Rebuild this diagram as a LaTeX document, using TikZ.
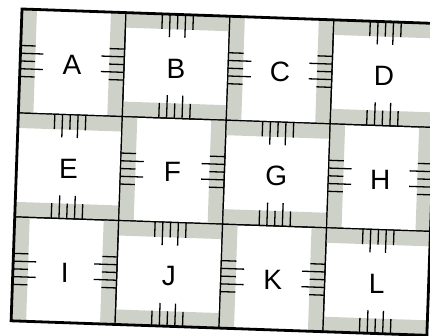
\documentclass[tikz,border=0pt]{standalone}
\usepackage{fontspec}
\setmainfont{Liberation Sans}
\definecolor{stripgray}{RGB}{206,209,200}

% tile with gray strips on the left and right sides
\newcommand{\vtile}[2]{%
  \begin{scope}[shift = {(#1,#2)}]
    \fill[graystrip] (0,0) rectangle (15,104);
    \fill[graystrip] (89,0) rectangle (104,104);
    \draw[tickline] (0,36.5) -- ++(15,0) (0,44.25) -- ++(23,0) (0,52) -- ++(15,0)
                    (0,59.75) -- ++(23,0) (0,67.5) -- ++(15,0);
    \draw[tickline] (104,36.5) -- ++(-15,0) (104,44.25) -- ++(-23,0) (104,52) -- ++(-15,0)
                    (104,59.75) -- ++(-23,0) (104,67.5) -- ++(-15,0);
    \draw[tileedge] (0,0) rectangle (104,104);
  \end{scope}}

% tile with gray strips on the top and bottom sides
\newcommand{\htile}[2]{%
  \begin{scope}[shift = {(#1,#2)}]
    \fill[graystrip] (0,0) rectangle (104,15);
    \fill[graystrip] (0,89) rectangle (104,104);
    \draw[tickline] (36.5,0) -- ++(0,15) (44.25,0) -- ++(0,23) (52,0) -- ++(0,15)
                    (59.75,0) -- ++(0,23) (67.5,0) -- ++(0,15);
    \draw[tickline] (36.5,104) -- ++(0,-15) (44.25,104) -- ++(0,-23) (52,104) -- ++(0,-15)
                    (59.75,104) -- ++(0,-23) (67.5,104) -- ++(0,-15);
    \draw[tileedge] (0,0) rectangle (104,104);
  \end{scope}}

\begin{document}
\begin{tikzpicture}[
    x = 1pt, y = -1pt,
    every node/.style = {font = \fontsize{28}{32}\selectfont, inner sep = 0pt},
    graystrip/.style  = {fill = stripgray},
    tileedge/.style   = {draw, line width = 1.2pt},
    outerframe/.style = {draw, line width = 2.8pt},
    tickline/.style   = {draw, line width = 1.3pt},
]

\useasboundingbox (0,0) rectangle (430,336);
\fill[white] (0,0) rectangle (430,336);
\clip (0,0) rectangle (430,336);

% ---------- the scanned board sits a little skewed ----------
\begin{scope}[shift = {(22,9)}, rotate = -2]

% ---------- tiles: 4 columns x 3 rows ----------
\vtile{  0}{  0}
\htile{104}{  0}
\vtile{208}{  0}
\htile{312}{  0}

\htile{  0}{104}
\vtile{104}{104}
\htile{208}{104}
\vtile{312}{104}

\vtile{  0}{208}
\htile{104}{208}
\vtile{208}{208}
\htile{312}{208}

% ---------- letters ----------
\node (A) at ( 52,  54) {A};
\node (B) at (156,  54) {B};
\node (C) at (260,  54) {C};
\node (D) at (364,  54) {D};

\node (E) at ( 52, 158) {E};
\node (F) at (156, 158) {F};
\node (G) at (260, 158) {G};
\node (H) at (364, 158) {H};

\node (I) at ( 52, 262) {I};
\node (J) at (156, 262) {J};
\node (K) at (260, 262) {K};
\node (L) at (364, 262) {L};

% ---------- outer frame ----------
\draw[outerframe] (0,0) rectangle (416,312);

\end{scope}

\end{tikzpicture}
\end{document}
